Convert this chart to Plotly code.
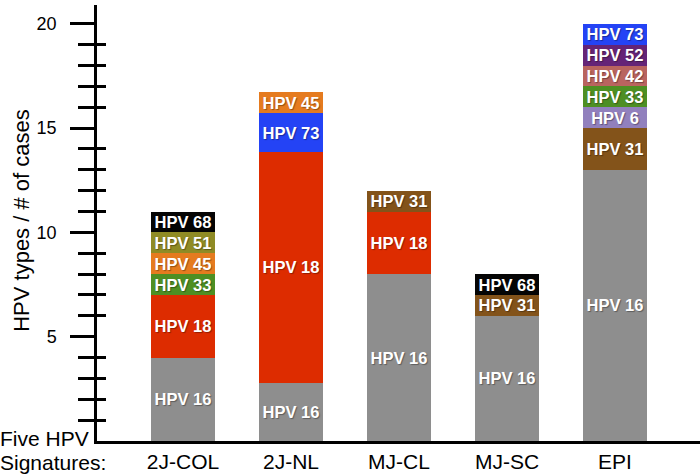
import plotly.graph_objects as go

categories = ["2J-COL", "2J-NL", "MJ-CL", "MJ-SC", "EPI"]

hpv16 = [4, 2.8, 8, 6, 13]
hpv18 = [3, 11.05, 3, None, None]
hpv31 = [None, None, 1, 1, 2]
hpv6 = [None, None, None, None, 1]
hpv33 = [1, None, None, None, 1]
hpv42 = [None, None, None, None, 1]
hpv52 = [None, None, None, None, 1]
hpv73 = [None, 1.85, None, None, 1]
hpv45 = [1, 1.05, None, None, None]
hpv51 = [1, None, None, None, None]
hpv68 = [1, None, None, 1, None]

series_names = ["HPV 16", "HPV 18", "HPV 31", "HPV 6", "HPV 33", "HPV 42",
                "HPV 52", "HPV 73", "HPV 45", "HPV 51", "HPV 68"]
series_values = [hpv16, hpv18, hpv31, hpv6, hpv33, hpv42, hpv52, hpv73,
                 hpv45, hpv51, hpv68]
series_colors = ["#8e8e8e", "#dd2c00", "#83531a", "#9180bd", "#4e8f23",
                 "#b9645f", "#652477", "#2443f5", "#e57b1f", "#8f8b25", "#050505"]

major_ticks = [5, 10, 15, 20]
minor_ticks = [v for v in range(1, 21) if v % 5 != 0]

FONT = "Liberation Sans, Arial, Helvetica, sans-serif"

fig = go.Figure()
for name, vals, col in zip(series_names, series_values, series_colors):
    fig.add_trace(go.Bar(
        x=categories, y=vals, name=name,
        marker=dict(color=col, line=dict(width=0)),
        text=[name if v is not None else None for v in vals],
        textposition="inside", insidetextanchor="middle",
        textangle=0,
        textfont=dict(color="white", size=16.5, family=FONT, weight="bold",
                      shadow="1px 1px 1px rgba(0,0,0,0.35)"),
        hoverinfo="skip",
    ))

# invisible trace to carry overlay axis for inner minor ticks
fig.add_trace(go.Scatter(x=[categories[0]], y=[0], yaxis="y2", mode="markers",
                         marker=dict(opacity=0), hoverinfo="skip", showlegend=False))

fig.update_layout(
    width=700, height=476,
    margin=dict(l=97, r=0, t=5, b=35),
    barmode="stack", bargap=0.4,
    plot_bgcolor="white", paper_bgcolor="white",
    showlegend=False,
    uniformtext=dict(minsize=16, mode="show"),
    font=dict(family=FONT, color="black"),
    xaxis=dict(
        range=[-0.796, 4.787], showgrid=False, zeroline=False,
        showline=True, linecolor="black", linewidth=2.5,
        ticks="", tickfont=dict(size=21, family=FONT, color="black"),
        ticklabelstandoff=0,
    ),
    yaxis=dict(
        range=[0, 20.9], showgrid=False, zeroline=False,
        showline=True, linecolor="black", linewidth=2.5,
        tickvals=major_ticks, ticks="outside", ticklen=24, tickwidth=2.5,
        tickcolor="black", tickfont=dict(size=18, family=FONT, color="black"),
        ticklabelstandoff=10,
        minor=dict(tickvals=minor_ticks, ticks="outside", ticklen=16,
                   tickwidth=2.5, tickcolor="black", showgrid=False),
    ),
    yaxis2=dict(
        overlaying="y", side="left", range=[0, 20.9], showgrid=False,
        zeroline=False, showline=False, tickvals=minor_ticks, ticks="inside",
        ticklen=9, tickwidth=2.5, tickcolor="black", showticklabels=False,
    ),
    annotations=[
        dict(text="HPV types / # of cases", xref="paper", yref="paper",
             x=0, xshift=-75, y=0.505, textangle=-90, showarrow=False,
             xanchor="center", yanchor="middle",
             font=dict(size=22, family=FONT, color="black")),
        dict(text="Five HPV", xref="paper", yref="paper", x=0, xshift=-99,
             y=0, yshift=3, xanchor="left", yanchor="middle", showarrow=False,
             font=dict(size=21, family=FONT, color="black")),
        dict(text="Signatures:", xref="paper", yref="paper", x=0, xshift=-99,
             y=0, yshift=-21, xanchor="left", yanchor="middle", showarrow=False,
             font=dict(size=21, family=FONT, color="black")),
    ],
)

fig.write_html("out.html", config={"displayModeBar": False},
               post_script="document.body.style.margin='0';document.body.style.padding='0';")
